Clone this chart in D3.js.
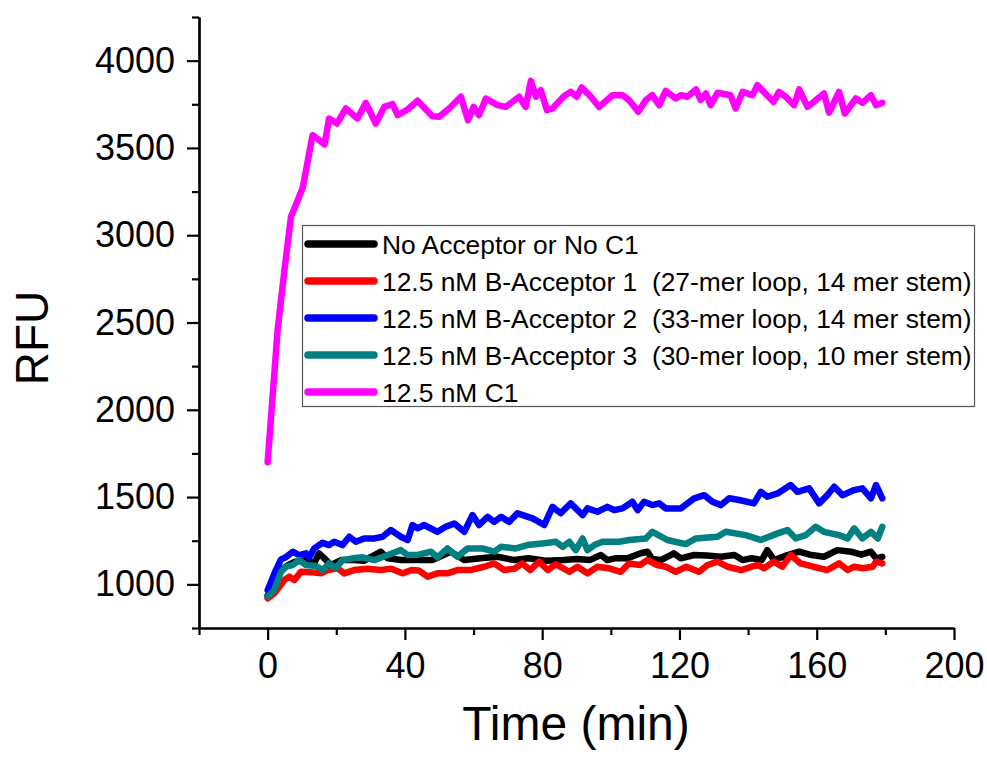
<!DOCTYPE html>
<html>
<head>
<meta charset="utf-8">
<script src="https://cdn.jsdelivr.net/npm/d3@7"></script>
<style>
  html, body { margin: 0; padding: 0; background: #fff; }
  svg { display: block; }
  text { font-family: "Liberation Sans", Arial, sans-serif; fill: #000; }
</style>
</head>
<body>
<svg id="chart" width="987" height="758"></svg>
<script>
// ---------------- data (time in min, RFU) ----------------
const xMajorTicks = [0, 40, 80, 120, 160, 200];
const xMinorTicks = [-20, 20, 60, 100, 140, 180];
const yMajorTicks = [1000, 1500, 2000, 2500, 3000, 3500, 4000];
const yMinorTicks = [750, 1250, 1750, 2250, 2750, 3250, 3750, 4250];

const seriesNames = [
  "No Acceptor or No C1",
  "12.5 nM B-Acceptor 1  (27-mer loop, 14 mer stem)",
  "12.5 nM B-Acceptor 2  (33-mer loop, 14 mer stem)",
  "12.5 nM B-Acceptor 3  (30-mer loop, 10 mer stem)",
  "12.5 nM C1"
];
const seriesColors = ["#000000", "#ff0000", "#0000ff", "#008080", "#ff00ff"];

const noAcceptor = [[0,935],[2,990],[3.9,1082],[6,1110],[8,1130],[11.7,1139],[13.5,1120],[15,1178],[16.5,1149],[18.5,1111],[21.4,1139],[25.2,1139],[28,1135],[33,1187],[35,1149],[39,1140],[43.7,1139],[48,1140],[53.4,1187],[57.3,1139],[62,1150],[67,1158],[71.9,1139],[76,1150],[81,1135],[86.4,1139],[90,1145],[94,1140],[97.1,1168],[99,1139],[101.5,1150],[104.8,1149],[108.7,1178],[110.7,1187],[112,1145],[114.6,1139],[118.4,1178],[120.4,1149],[124.3,1168],[128,1165],[132.1,1158],[136,1168],[138.4,1139],[141,1150],[144,1140],[145.6,1196],[147.6,1139],[151.5,1168],[154.9,1187],[158,1170],[162.1,1158],[166,1196],[170,1187],[173,1170],[175.8,1187],[177.3,1149],[179.1,1158]];

const acceptor1 = [[0,920],[1.9,948],[4.9,1025],[6.3,1044],[7.8,1025],[9.7,1072],[12.5,1070],[15.5,1063],[17.5,1082],[20.4,1092],[22.3,1063],[25.2,1082],[29,1090],[33,1082],[36,1090],[39.3,1063],[42,1082],[44,1080],[46.6,1044],[49.5,1063],[52.4,1063],[55.3,1082],[59,1082],[63.1,1101],[66,1120],[68.9,1082],[72,1090],[74.2,1120],[76.5,1082],[79.1,1130],[81.6,1082],[84,1115],[87.9,1072],[90.3,1101],[93.2,1063],[96.1,1101],[99.5,1092],[102.9,1072],[105.3,1120],[108.5,1111],[110.7,1139],[113.5,1111],[116,1101],[118.9,1072],[122,1101],[125.7,1072],[128.2,1111],[131.1,1130],[134,1101],[138,1082],[141,1101],[143,1111],[144.6,1092],[147.5,1130],[150,1101],[152.4,1168],[155.3,1120],[159,1101],[163.1,1082],[166.5,1120],[169,1082],[170.9,1101],[173.5,1092],[176.3,1101],[177.3,1130],[179.1,1120]];

const acceptor2 = [[0,967],[2.4,1082],[3.9,1143],[5.3,1155],[7.3,1187],[9.2,1168],[11.2,1178],[12.1,1155],[13.6,1206],[16,1238],[17.9,1225],[19.4,1244],[21.8,1225],[23.8,1273],[25.7,1244],[28.1,1263],[31.1,1263],[33.5,1273],[35.9,1311],[38.8,1273],[40.8,1254],[42.2,1340],[43.7,1321],[45.6,1340],[49.5,1301],[51.9,1330],[54.4,1349],[57.3,1301],[59.7,1397],[61.6,1340],[64.1,1387],[66,1358],[68,1387],[70.4,1358],[72.8,1407],[77.2,1378],[80.6,1340],[83,1444],[85.4,1407],[88.3,1464],[91.8,1397],[93.2,1435],[96.1,1416],[99,1444],[101,1425],[103.4,1435],[106.3,1473],[107.8,1425],[109.7,1473],[112.1,1454],[114.1,1464],[116,1435],[120.4,1435],[124.3,1493],[127.2,1511],[129.6,1473],[132.1,1454],[134.5,1493],[137.4,1483],[141.7,1464],[143.7,1530],[145.6,1502],[148.6,1521],[152.4,1569],[154.4,1530],[157.8,1550],[160.7,1464],[163.1,1511],[165.1,1559],[167.5,1511],[170.9,1540],[173.3,1550],[175.8,1493],[177.3,1569],[179.1,1493]];

const acceptor3 = [[0,929],[1.9,967],[3.9,1072],[5.3,1101],[7.3,1111],[9.2,1139],[11.2,1111],[14.1,1105],[16,1082],[17.9,1120],[19.9,1092],[21.8,1139],[24.8,1149],[27.7,1155],[31.1,1139],[35,1168],[38.8,1196],[40.8,1168],[44,1170],[47.6,1187],[49.5,1155],[52.4,1206],[55.3,1158],[58.3,1206],[62.6,1206],[66,1187],[68,1215],[72.3,1206],[75.7,1225],[80.6,1235],[84,1244],[86,1215],[87.9,1244],[89.8,1196],[91.8,1263],[93.2,1196],[95.2,1225],[97.6,1244],[102.4,1244],[105.3,1254],[110.2,1263],[112.1,1301],[116.5,1254],[121.8,1230],[124.8,1263],[131.1,1273],[133.5,1301],[139.3,1282],[143.7,1254],[148.6,1292],[151.5,1311],[153.9,1263],[156.8,1282],[159.7,1330],[162.1,1301],[166.5,1282],[169,1263],[170.9,1321],[173.3,1263],[175.8,1301],[177.8,1263],[179.1,1330]];

const c1 = [[0,1700],[2.9,2456],[4.9,2800],[6.8,3105],[10.2,3270],[13.1,3573],[16.6,3520],[17.9,3669],[20.2,3640],[22.8,3726],[26.2,3669],[28.6,3758],[31.5,3640],[34,3735],[36.4,3751],[37.9,3688],[40.8,3720],[43.7,3770],[48,3682],[50,3678],[52.9,3726],[56.3,3793],[58.4,3659],[60,3735],[61.6,3688],[63.6,3783],[67,3745],[69.4,3735],[73.3,3793],[75.2,3735],[76.7,3884],[78.2,3793],[79.6,3831],[81.4,3716],[83,3726],[86.4,3797],[88.3,3821],[90.1,3793],[91.5,3847],[94.2,3793],[96.6,3735],[100.5,3802],[103.4,3802],[105.3,3774],[108,3707],[110.2,3774],[112.1,3802],[114.1,3745],[116,3827],[118.9,3783],[120.4,3802],[122.3,3793],[124.8,3835],[126.2,3774],[127.7,3812],[129.1,3745],[131.1,3816],[134.9,3802],[136.4,3726],[138.4,3821],[141.3,3802],[142.7,3860],[144.6,3821],[147.4,3764],[149,3821],[151,3793],[153.4,3745],[154.9,3835],[157.3,3735],[162.1,3812],[163.6,3702],[166.5,3821],[168.2,3697],[171.4,3783],[173.3,3758],[175.8,3802],[177.3,3745],[179.1,3758]];

const seriesData = [noAcceptor, acceptor1, acceptor2, acceptor3, c1];

// ---------------- layout ----------------
const svg = d3.select("#chart");
const x = d3.scaleLinear().domain([-20, 200]).range([199, 954]);
const y = d3.scaleLinear().domain([750, 4250]).range([628, 17]);

// ---------------- axes ----------------
function styleAxis(g) {
  g.selectAll("path.domain").attr("stroke", "#000").attr("stroke-width", 2.2);
  g.selectAll(".tick line").attr("stroke", "#000").attr("stroke-width", 2.2);
  g.selectAll(".tick text").attr("font-size", 36).attr("font-family", '"Liberation Sans", Arial, sans-serif').attr("fill", "#000");
}

const xAxisG = svg.append("g").attr("transform", "translate(0,628)")
  .call(d3.axisBottom(x).tickValues(xMajorTicks).tickSize(12).tickSizeOuter(0).tickPadding(12).tickFormat(d3.format("d")));
styleAxis(xAxisG);
const xMinorG = svg.append("g").attr("transform", "translate(0,628)")
  .call(d3.axisBottom(x).tickValues(xMinorTicks).tickSize(7).tickSizeOuter(0).tickFormat(""));
styleAxis(xMinorG);

const yAxisG = svg.append("g").attr("transform", "translate(199,0)")
  .call(d3.axisLeft(y).tickValues(yMajorTicks).tickSize(12).tickSizeOuter(0).tickPadding(12).tickFormat(d3.format("d")));
styleAxis(yAxisG);
const yMinorG = svg.append("g").attr("transform", "translate(199,0)")
  .call(d3.axisLeft(y).tickValues(yMinorTicks).tickSize(7).tickSizeOuter(0).tickFormat(""));
styleAxis(yMinorG);

// axis titles
svg.append("text")
  .attr("x", 576).attr("y", 740)
  .attr("text-anchor", "middle")
  .attr("font-size", 48)
  .text("Time (min)");

svg.append("text")
  .attr("transform", "translate(48,338) rotate(-90)")
  .attr("text-anchor", "middle")
  .attr("font-size", 46)
  .text("RFU");

// ---------------- lines ----------------
const line = d3.line().x(d => x(d[0])).y(d => y(d[1]));
seriesData.forEach((data, i) => {
  svg.append("path")
    .datum(data)
    .attr("d", line)
    .attr("fill", "none")
    .attr("stroke", seriesColors[i])
    .attr("stroke-width", 6.5)
    .attr("stroke-linejoin", "round")
    .attr("stroke-linecap", "round");
});

// ---------------- legend ----------------
const legend = svg.append("g");
legend.append("rect")
  .attr("x", 302.5).attr("y", 225.5)
  .attr("width", 672).attr("height", 181)
  .attr("fill", "#fff")
  .attr("stroke", "#555").attr("stroke-width", 1.2);

seriesNames.forEach((name, i) => {
  const cy = 244 + i * 37;
  legend.append("line")
    .attr("x1", 308).attr("x2", 374)
    .attr("y1", cy).attr("y2", cy)
    .attr("stroke", seriesColors[i])
    .attr("stroke-width", 7.5)
    .attr("stroke-linecap", "round");
  legend.append("text")
    .attr("x", 382).attr("y", cy + 9.5)
    .attr("font-size", 26.4)
    .attr("xml:space", "preserve")
    .style("white-space", "pre")
    .text(name);
});
</script>
</body>
</html>
